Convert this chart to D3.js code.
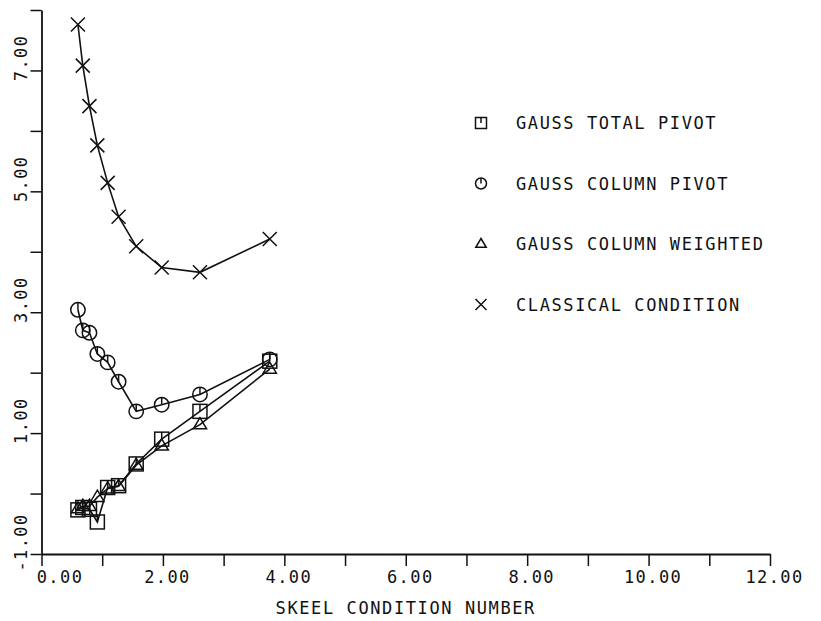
<!DOCTYPE html>
<html>
<head>
<meta charset="utf-8">
<script src="https://cdn.jsdelivr.net/npm/d3@7"></script>
<style>
  body { margin: 0; background: #fff; }
  text { font-family: "DejaVu Sans Mono", monospace; fill: #111; }
</style>
</head>
<body>
<div id="plot"></div>
<script>
// skeel condition number (same test matrices for every series)
const skeel = [0.60, 0.68, 0.79, 0.92, 1.09, 1.27, 1.56, 1.98, 2.61, 3.76];

const gaussTotal    = [-0.27, -0.23, -0.26, -0.47, 0.10, 0.13, 0.49, 0.90, 1.36, 2.19];
const gaussColumn   = [3.04, 2.70, 2.66, 2.31, 2.17, 1.85, 1.36, 1.47, 1.64, 2.22];
const gaussWeighted = [-0.25, -0.21, -0.21, -0.06, 0.08, 0.12, 0.47, 0.79, 1.14, 2.06];
const classical     = [7.76, 7.08, 6.41, 5.76, 5.14, 4.58, 4.09, 3.74, 3.66, 4.21];

const seriesNames = ["GAUSS TOTAL PIVOT", "GAUSS COLUMN PIVOT", "GAUSS COLUMN WEIGHTED", "CLASSICAL CONDITION"];
const seriesMarks = ["square", "circle", "triangle", "cross"];
const seriesValues = [gaussTotal, gaussColumn, gaussWeighted, classical];

const xTicks = d3.range(0, 13);
const xLabelled = [0, 2, 4, 6, 8, 10, 12];
const yTicks = d3.range(-1, 9);
const yLabelled = [-1, 1, 3, 5, 7];

const width = 821, height = 621;
const svg = d3.select("#plot").append("svg")
    .attr("width", width)
    .attr("height", height);

const x = d3.scaleLinear().domain([0, 12]).range([41.5, 770]);
const y = d3.scaleLinear().domain([-1, 8]).range([554, 10]);

// axes
const xAxis = svg.append("g")
    .attr("transform", `translate(0,${y(-1)})`)
    .call(d3.axisBottom(x)
        .tickValues(xTicks)
        .tickSize(12)
        .tickSizeOuter(0)
        .tickPadding(5)
        .tickFormat(d => xLabelled.includes(d) ? d.toFixed(2) : ""));
xAxis.select(".domain").attr("stroke", "#111").attr("stroke-width", 1.8);
xAxis.selectAll(".tick line").attr("stroke", "#111").attr("stroke-width", 1.5);
xAxis.selectAll(".tick text")
    .attr("font-size", 17)
    .attr("letter-spacing", 1.4)
    .attr("dx", d => d === 0 ? 18 : 4);

const yAxis = svg.append("g")
    .attr("transform", `translate(${x(0)},0)`)
    .call(d3.axisLeft(y)
        .tickValues(yTicks)
        .tickSize(11)
        .tickSizeOuter(0)
        .tickFormat(d => yLabelled.includes(d) ? d.toFixed(2) : ""));
yAxis.select(".domain").attr("stroke", "#111").attr("stroke-width", 1.8);
yAxis.selectAll(".tick line").attr("stroke", "#111").attr("stroke-width", 1.5);
yAxis.selectAll(".tick text")
    .attr("font-size", 17)
    .attr("letter-spacing", 1.4)
    .attr("transform", "rotate(-90)")
    .attr("text-anchor", "middle")
    .attr("x", d => d < 0 ? 12 : 13)
    .attr("y", -21)
    .attr("dy", "0.36em");

svg.append("text")
    .attr("x", (x(0) + x(12)) / 2)
    .attr("y", 614)
    .attr("text-anchor", "middle")
    .attr("font-size", 17)
    .attr("letter-spacing", 1.6)
    .text("SKEEL CONDITION NUMBER");

// markers
function drawMark(g, type, s) {
    const st = { stroke: "#111", "stroke-width": 1.5, fill: "none" };
    const add = (tag) => { const e = g.append(tag); for (const k in st) e.attr(k, st[k]); return e; };
    if (type === "square") {
        add("rect").attr("x", -s).attr("y", -s).attr("width", 2 * s).attr("height", 2 * s);
        add("line").attr("x1", 0).attr("x2", 0).attr("y1", -s).attr("y2", 0);
    } else if (type === "circle") {
        add("circle").attr("r", s);
        add("line").attr("x1", 0).attr("x2", 0).attr("y1", -s).attr("y2", 0);
    } else if (type === "triangle") {
        add("path").attr("d", `M0,${-s}L${s * 0.95},${s * 0.6}L${-s * 0.95},${s * 0.6}Z`);
    } else {
        add("path").attr("d", `M${-s},${-s}L${s},${s}M${-s},${s}L${s},${-s}`);
    }
}

const line = d3.line()
    .x((d, i) => x(skeel[i]))
    .y(d => y(d));

seriesValues.forEach((vals, k) => {
    svg.append("path")
        .datum(vals)
        .attr("fill", "none")
        .attr("stroke", "#111")
        .attr("stroke-width", 1.6)
        .attr("d", line);
    vals.forEach((v, i) => {
        const g = svg.append("g").attr("transform", `translate(${x(skeel[i])},${y(v)})`);
        drawMark(g, seriesMarks[k], seriesMarks[k] === "circle" ? 7.2 : 7);
    });
});

// legend
const legend = svg.append("g").attr("transform", "translate(481,123)");
seriesNames.forEach((name, k) => {
    const row = legend.append("g").attr("transform", `translate(0,${k * 60.5})`);
    drawMark(row, seriesMarks[k], 5.5);
    row.append("text")
        .attr("x", 35)
        .attr("dy", "0.36em")
        .attr("font-size", 17)
        .attr("letter-spacing", 1.6)
        .text(name);
});
</script>
</body>
</html>
